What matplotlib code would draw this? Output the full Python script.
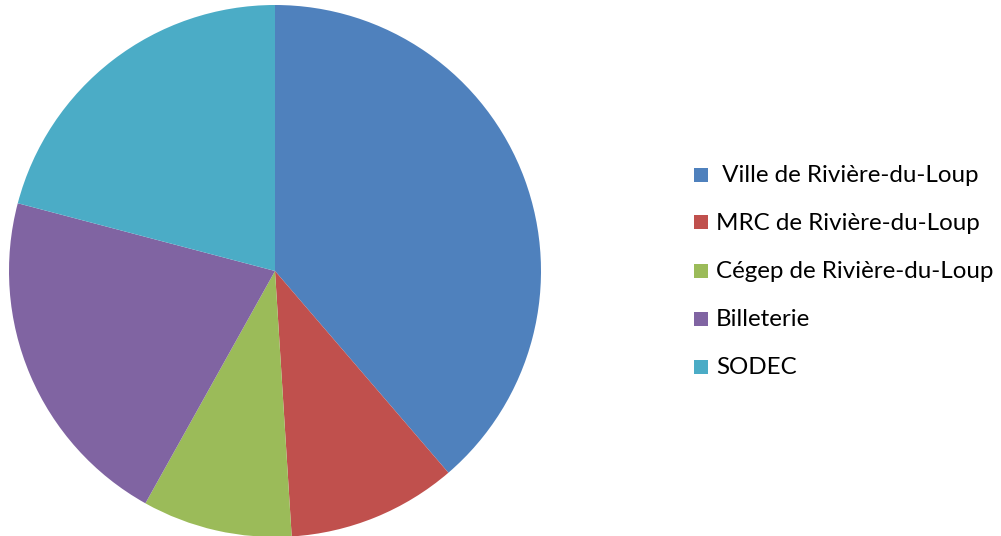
import matplotlib
matplotlib.use("Agg")
import matplotlib.pyplot as plt
from matplotlib.patches import Rectangle

labels = [" Ville de Rivière-du-Loup", "MRC de Rivière-du-Loup", "Cégep de Rivière-du-Loup", "Billeterie", "SODEC"]
values = [38.7, 10.3, 9.1, 21.0, 20.9]
colors = ["#4F81BD", "#C0504D", "#9BBB59", "#8064A2", "#4BACC6"]

W, H = 1001, 536
fig = plt.figure(figsize=(W / 100, H / 100), dpi=100)
cx, cy, r = 275, 271, 266
ax = fig.add_axes([(cx - r) / W, (H - cy - r) / H, 2 * r / W, 2 * r / H])
ax.pie(values, colors=colors, startangle=90, counterclock=False, radius=1,
       wedgeprops=dict(linewidth=0))
ax.set_xlim(-1, 1)
ax.set_ylim(-1, 1)
ax.set_aspect("equal")
ax.axis("off")

ys = [175, 222, 271, 319, 367]
for lab, col, y in zip(labels, colors, ys):
    fig.patches.append(Rectangle(((694) / W, (H - y - 7) / H), 14 / W, 14 / H,
                                 transform=fig.transFigure, facecolor=col, edgecolor="none"))
    fig.text(716 / W, (H - y - 1) / H, lab, fontsize=17.4, family="Lato", va="center", ha="left", color="black")

fig.savefig("out.png", dpi=100)
